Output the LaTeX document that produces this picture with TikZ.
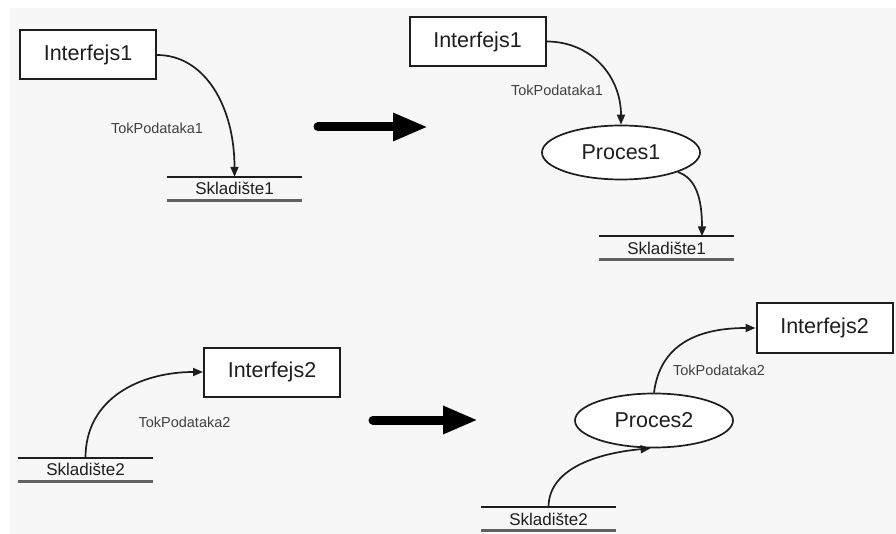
\documentclass[tikz,border=0pt]{standalone}
\usepackage{fontspec}
\setmainfont{Liberation Sans}
\usetikzlibrary{arrows.meta,shapes.geometric}
\definecolor{canvas}{HTML}{F7F7F7}
\definecolor{ink}{HTML}{1E1E1E}
\begin{document}
\begin{tikzpicture}[x=1pt,y=-1pt,
  entity/.style={draw=ink,line width=2pt,fill=white,rectangle,
    minimum width=136pt,minimum height=49pt,inner sep=0pt,text=ink,
    font=\fontsize{21.5pt}{24pt}\selectfont},
  process/.style={draw=ink,line width=1.7pt,fill=white,ellipse,
    minimum width=158pt,minimum height=54pt,inner sep=0pt,text=ink,
    font=\fontsize{21.5pt}{24pt}\selectfont},
  store/.style={rectangle,minimum width=135pt,minimum height=23pt,
    inner sep=0pt,text=ink,font=\fontsize{17pt}{19pt}\selectfont},
  storetop/.style={draw=ink,line width=1.8pt},
  storebottom/.style={draw=black!62,line width=2.8pt},
  flow/.style={draw=ink,line width=1.7pt,
    -{Triangle[length=10pt,width=8pt]}},
  flowlabel/.style={text=ink!85,font=\fontsize{14.5pt}{16pt}\selectfont,
    inner sep=0pt},
  bigarrow/.style={draw=black,line width=9pt,line cap=round,
    -{Triangle[length=35pt,width=26pt]}}]
\useasboundingbox (0,0) rectangle (896,534);
\fill[white] (0,0) rectangle (896,534);
\fill[canvas] (10,8) rectangle (896,534);

% ---- top left: interface writes straight into the store
\node[entity] (ia) at (88,55) {Interfejs1};
\node[store] (sa) at (234.5,188.5) {Skladište1};
\draw[storetop] (sa.north west) -- (sa.north east);
\draw[storebottom] (sa.south west) -- (sa.south east);
\draw[flow] (ia.east) .. controls +(48,0) and +(0,-70) .. (sa.north);
\node[flowlabel] at (157,128) {TokPodataka1};

% ---- transformation arrow (top)
\coordinate (ta) at (318,127);
\coordinate (tb) at (428,127);
\draw[bigarrow] (ta) -- (tb);

% ---- top right: interface -> process -> store
\node[entity] (ib) at (477.5,41.5) {Interfejs1};
\node[process] (pa) at (621,152.5) {Proces1};
\node[store] (sb) at (666.5,248) {Skladište1};
\draw[storetop] (sb.north west) -- (sb.north east);
\draw[storebottom] (sb.south west) -- (sb.south east);
\draw[flow] (ib.east) .. controls +(45,0) and +(0,-48) .. (pa.north);
\draw[flow] (pa.-19) .. controls +(18,6) and +(0,-38) .. ([xshift=35.5pt]sb.north);
\node[flowlabel] at (557,90) {TokPodataka1};

% ---- bottom left: store feeds the interface
\node[entity] (ic) at (272,372) {Interfejs2};
\node[store] (sc) at (85.5,469.5) {Skladište2};
\draw[storetop] (sc.north west) -- (sc.north east);
\draw[storebottom] (sc.south west) -- (sc.south east);
\draw[flow] (sc.north) .. controls +(0,-60) and +(-62,0) .. (ic.west);
\node[flowlabel] at (184.5,422) {TokPodataka2};

% ---- transformation arrow (bottom)
\coordinate (tc) at (373,420);
\coordinate (td) at (478,420);
\draw[bigarrow] (tc) -- (td);

% ---- bottom right: store -> process -> interface
\node[entity] (id) at (824.5,328) {Interfejs2};
\node[process] (pb) at (654,420.5) {Proces2};
\node[store] (sd) at (548.5,519) {Skladište2};
\draw[storetop] (sd.north west) -- (sd.north east);
\draw[storebottom] (sd.south west) -- (sd.south east);
\draw[flow] (sd.north) .. controls +(0,-42) and +(-45,4) .. (pb.-97);
\draw[flow] (pb.north) .. controls +(6,-48) and +(-58,0) .. (id.west);
\node[flowlabel] at (719,370) {TokPodataka2};
\end{tikzpicture}
\end{document}
